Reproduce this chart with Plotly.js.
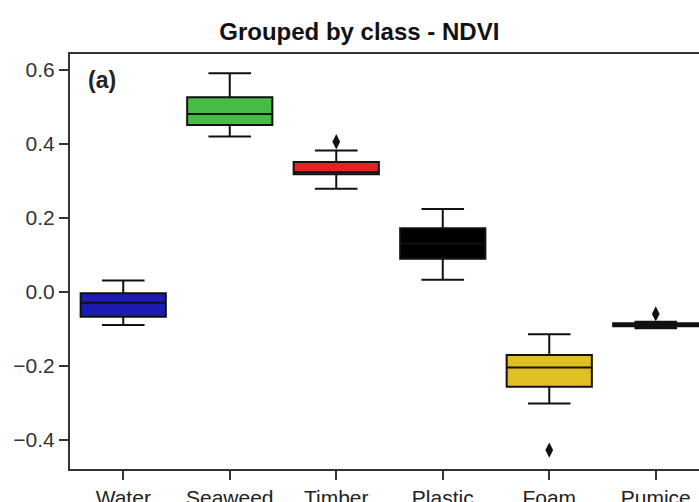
<!DOCTYPE html>
<html>
<head>
<meta charset="utf-8">
<script src="https://cdn.plot.ly/plotly-3.0.1.min.js"></script>
<style>html,body{margin:0;padding:0;background:#fff;}</style>
</head>
<body>
<div id="chart" style="width:699px;height:502px;"></div>
<script>
const categories = ["Water", "Seaweed", "Timber", "Plastic", "Foam", "Pumice"];
const lowerWhisker = [-0.090, 0.419, 0.278, 0.032, -0.302, -0.099];
const q1Values     = [-0.068, 0.450, 0.317, 0.089, -0.257, -0.0935];
const medianValues = [-0.030, 0.480, 0.323, 0.130, -0.205, -0.089];
const q3Values     = [-0.004, 0.525, 0.350, 0.171, -0.171, -0.085];
const upperWhisker = [0.030, 0.590, 0.381, 0.223, -0.115, -0.081];
const boxColors    = ["#1c1cb2", "#46bb46", "#e42226", "#000000", "#dec022", "#111111"];
const outlierCats   = ["Timber", "Foam", "Pumice"];
const outlierValues = [0.405, -0.428, -0.060];
const yTickValues = [-0.4, -0.2, 0.0, 0.2, 0.4, 0.6];
const yTickLabels = ["−0.4", "−0.2", "0.0", "0.2", "0.4", "0.6"];

const traces = categories.map((c, i) => ({
  type: "box",
  x: [c],
  q1: [q1Values[i]],
  median: [medianValues[i]],
  q3: [q3Values[i]],
  lowerfence: [lowerWhisker[i]],
  upperfence: [upperWhisker[i]],
  fillcolor: boxColors[i],
  line: {color: "#111111", width: 2},
  whiskerwidth: 0.5,
  width: 0.8,
  boxpoints: false,
  showlegend: false,
  hoverinfo: "skip"
}));

traces.push({
  type: "scatter",
  mode: "markers",
  x: outlierCats,
  y: outlierValues,
  marker: {symbol: "diamond-tall", size: 11, color: "#111111"},
  showlegend: false,
  hoverinfo: "skip"
});

const layout = {
  width: 699,
  height: 502,
  margin: {l: 70, r: 0, t: 54, b: 33},
  paper_bgcolor: "#ffffff",
  plot_bgcolor: "#ffffff",
  boxmode: "overlay",
  font: {family: "Liberation Sans, Arial, sans-serif", size: 21, color: "#333333"},
  title: {
    text: "<b>Grouped by class - NDVI</b>",
    font: {family: "Liberation Sans, Arial, sans-serif", size: 24, color: "#111111"},
    xref: "container", yref: "container",
    x: 0.514, y: 0.938, xanchor: "center", yanchor: "middle"
  },
  xaxis: {
    type: "category",
    categoryorder: "array",
    categoryarray: categories,
    range: [-0.5, 5.406],
    showline: true, mirror: true, linecolor: "#333333", linewidth: 2,
    ticks: "outside", ticklen: 9, tickwidth: 2, tickcolor: "#333333",
    showgrid: false, zeroline: false,
    tickfont: {size: 21, color: "#222222"}
  },
  yaxis: {
    range: [-0.479, 0.642],
    tickvals: yTickValues,
    ticktext: yTickLabels,
    showline: true, linecolor: "#333333", linewidth: 2,
    ticks: "outside", ticklen: 9, tickwidth: 2, tickcolor: "#333333",
    showgrid: false, zeroline: false,
    tickfont: {size: 21, color: "#333333"}
  },
  annotations: [{
    text: "<b>(a)</b>",
    xref: "paper", yref: "paper",
    x: 0.026, y: 0.937, xanchor: "left", yanchor: "middle",
    showarrow: false,
    font: {family: "Liberation Sans, Arial, sans-serif", size: 23, color: "#222222"}
  }]
};

Plotly.newPlot("chart", traces, layout, {staticPlot: true, displayModeBar: false});
</script>
</body>
</html>
